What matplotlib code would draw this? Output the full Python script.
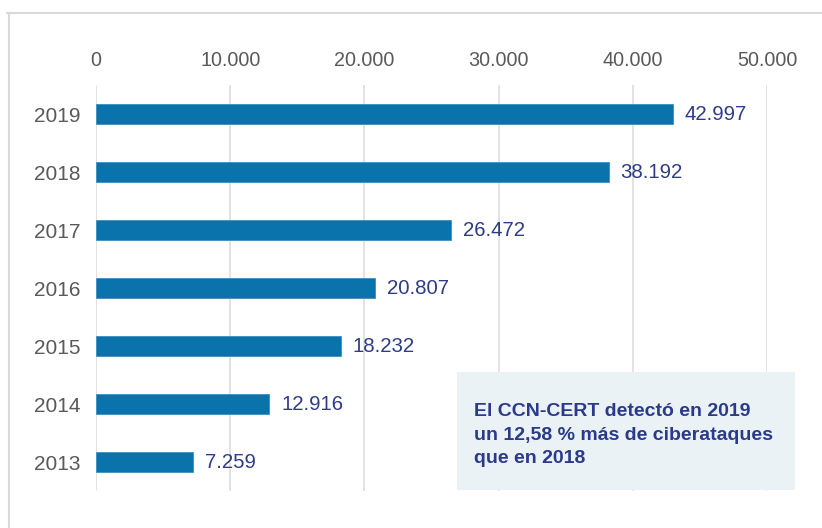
import matplotlib.pyplot as plt
from matplotlib.patches import Rectangle
from matplotlib.lines import Line2D
from matplotlib.ticker import FuncFormatter

plt.rcParams['font.family'] = ['Liberation Sans', 'DejaVu Sans']

years = ['2019', '2018', '2017', '2016', '2015', '2014', '2013']
attacks = [42997, 38192, 26472, 20807, 18232, 12916, 7259]
x_ticks = [0, 10000, 20000, 30000, 40000, 50000]
note = 'El CCN-CERT detectó en 2019\nun 12,58 % más de ciberataques\nque en 2018'


def miles(v):
    return f'{int(v):,}'.replace(',', '.')


fig = plt.figure(figsize=(8.22, 5.28), dpi=100)
ax = fig.add_axes([0.1168, 0.070, 0.8163, 0.769])

pos = list(range(len(years)))
bars = ax.barh(pos, attacks, height=0.34, color='#0a73ab', edgecolor='#3d8fbe',
               linewidth=0.6, zorder=3)
ax.bar_label(bars, labels=[miles(v) for v in attacks], padding=8.5,
             fontsize=14.7, color='#2e3b86')

ax.set_yticks(pos)
ax.set_yticklabels(years)
ax.set_ylim(len(years) - 0.5, -0.5)
ax.set_xlim(0, 50000)
ax.set_xticks(x_ticks)
ax.xaxis.set_major_formatter(FuncFormatter(lambda v, p: miles(v)))
ax.xaxis.tick_top()
ax.tick_params(axis='x', length=0, pad=11, labelsize=14.2, labelcolor='#595959')
ax.tick_params(axis='y', length=0, pad=11, labelsize=15, labelcolor='#595959')
ax.grid(axis='x', color='#dedede', linewidth=1.2, zorder=0)
for s in ax.spines.values():
    s.set_visible(False)

# frame lines of the panel
fig.add_artist(Line2D([7 / 822, 1], [1 - 13 / 528, 1 - 13 / 528],
                      color='#d9d9d9', linewidth=1.5))
fig.add_artist(Line2D([9 / 822, 9 / 822], [0, 1 - 13 / 528],
                      color='#d9d9d9', linewidth=1.5))

# note box
fig.add_artist(Rectangle((457 / 822, 1 - 490 / 528), 338 / 822, 118 / 528,
                         facecolor='#eaf2f5', edgecolor='none', zorder=5))
fig.text(474 / 822, 1 - 435 / 528, note, fontsize=14, fontweight='bold',
         color='#2b3a8a', va='center', ha='left', linespacing=1.5, zorder=6)

fig.savefig('out.png', dpi=100)
